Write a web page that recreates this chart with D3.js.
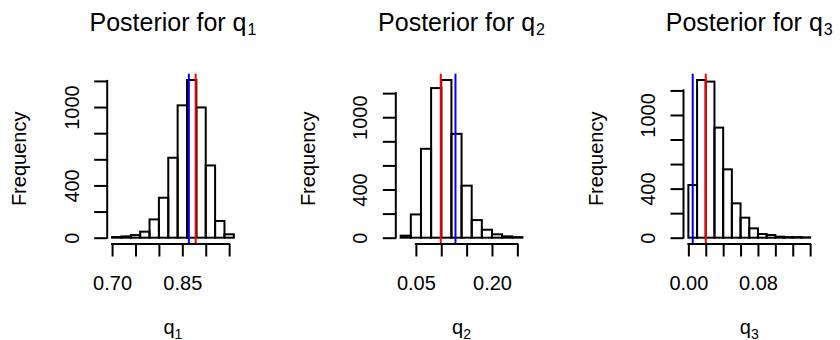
<!DOCTYPE html>
<html>
<head>
<meta charset="utf-8">
<script src="https://cdn.jsdelivr.net/npm/d3@7"></script>
<style>
  html, body { margin: 0; padding: 0; background: #ffffff; }
  svg { display: block; }
  text { font-family: "Liberation Sans", Arial, Helvetica, sans-serif; fill: #000; }
</style>
</head>
<body>
<svg id="chart" width="840" height="340"></svg>
<script>
// ---------- data ----------
const subscripts = ["1", "2", "3"];

// histogram breaks per panel
const breaks1 = [0.70, 0.72, 0.74, 0.76, 0.78, 0.80, 0.82, 0.84, 0.86, 0.88, 0.90, 0.92, 0.94, 0.96];
const breaks2 = [0.02, 0.04, 0.06, 0.08, 0.10, 0.12, 0.14, 0.16, 0.18, 0.20, 0.22, 0.24, 0.26];
const breaks3 = [0.00, 0.01, 0.02, 0.03, 0.04, 0.05, 0.06, 0.07, 0.08, 0.09, 0.10, 0.11, 0.12, 0.13, 0.14];

// counts per bin
const counts1 = [5, 10, 20, 46, 140, 306, 612, 1013, 1207, 997, 553, 128, 26];
const counts2 = [17, 193, 738, 1242, 1309, 862, 432, 146, 66, 28, 11, 5];
const counts3 = [429, 1285, 1272, 897, 557, 280, 163, 76, 30, 22, 8, 5, 5, 3];

// x-axis ticks and which ones carry a label
const xTicks1 = [0.70, 0.75, 0.80, 0.85, 0.90, 0.95];
const xTicks2 = [0.05, 0.10, 0.15, 0.20, 0.25];
const xTicks3 = [0.00, 0.02, 0.04, 0.06, 0.08, 0.10, 0.12, 0.14];
const xLabeled1 = ["0.70", "0.85"];
const xLabeled2 = ["0.05", "0.20"];
const xLabeled3 = ["0.00", "0.08"];

// y-axis ticks and labelled ones
const yTicks = [0, 200, 400, 600, 800, 1000, 1200];
const yLabeled = [0, 400, 1000];

// vertical reference lines
const blueLines = [0.864, 0.128, 0.005];
const redLines  = [0.8785, 0.099, 0.020];

// ---------- layout ----------
const panels = [
  { breaks: breaks1, counts: counts1, xTicks: xTicks1, xLabeled: xLabeled1, blue: blueLines[0], red: redLines[0], sub: subscripts[0] },
  { breaks: breaks2, counts: counts2, xTicks: xTicks2, xLabeled: xLabeled2, blue: blueLines[1], red: redLines[1], sub: subscripts[1] },
  { breaks: breaks3, counts: counts3, xTicks: xTicks3, xLabeled: xLabeled3, blue: blueLines[2], red: redLines[2], sub: subscripts[2] }
];
const plotLefts = [107.2, 395.8, 683.5];
const plotW = 131.5;
const plotTop = 73.7, plotBottom = 244;
const lw = 2;

const svg = d3.select("#chart");

panels.forEach((p, i) => {
  const L = plotLefts[i];
  const lo = p.breaks[0], hi = p.breaks[p.breaks.length - 1];
  const xr = (hi - lo) * 0.04;
  const x = d3.scaleLinear().domain([lo - xr, hi + xr]).range([L, L + plotW]);
  const maxC = d3.max(p.counts);
  const y = d3.scaleLinear().domain([-0.04 * maxC, 1.04 * maxC]).range([plotBottom, plotTop]);
  const g = svg.append("g");

  // bars
  const bins = p.counts.map((c, k) => ({ x0: p.breaks[k], x1: p.breaks[k + 1], c }));
  g.selectAll("rect.bar").data(bins).enter().append("rect")
    .attr("class", "bar")
    .attr("x", d => x(d.x0))
    .attr("width", d => x(d.x1) - x(d.x0))
    .attr("y", d => y(d.c))
    .attr("height", d => y(0) - y(d.c))
    .attr("fill", "none")
    .attr("stroke", "#000")
    .attr("stroke-width", lw);

  // vertical lines
  [[p.blue, "#0000FF"], [p.red, "#FF0000"]].forEach(([v, col]) => {
    g.append("line")
      .attr("x1", x(v)).attr("x2", x(v))
      .attr("y1", plotTop).attr("y2", plotBottom)
      .attr("stroke", col).attr("stroke-width", lw);
  });

  // x axis
  const xAxis = d3.axisBottom(x).tickValues(p.xTicks).tickSize(12.5).tickSizeOuter(0)
    .tickFormat(d => { const s = d.toFixed(2); return p.xLabeled.includes(s) ? s : ""; });
  const gx = g.append("g").attr("transform", `translate(0,${plotBottom})`).call(xAxis);
  gx.select(".domain").remove();
  gx.append("line")
    .attr("x1", x(p.xTicks[0])).attr("x2", x(p.xTicks[p.xTicks.length - 1]))
    .attr("y1", 0).attr("y2", 0)
    .attr("stroke", "#000").attr("stroke-width", lw).attr("stroke-linecap", "square");
  gx.selectAll(".tick line").attr("stroke", "#000").attr("stroke-width", lw);
  gx.selectAll(".tick text")
    .attr("y", 46).attr("dy", null)
    .style("font-size", "20px")
    .style("font-family", "'Liberation Sans', Arial, sans-serif");

  // y axis
  const yAxis = d3.axisLeft(y).tickValues(yTicks).tickSize(13).tickSizeOuter(0)
    .tickFormat(d => yLabeled.includes(d) ? String(d) : "");
  const gy = g.append("g").attr("transform", `translate(${L},0)`).call(yAxis);
  gy.select(".domain").remove();
  gy.append("line")
    .attr("x1", 0).attr("x2", 0)
    .attr("y1", y(yTicks[0])).attr("y2", y(yTicks[yTicks.length - 1]))
    .attr("stroke", "#000").attr("stroke-width", lw).attr("stroke-linecap", "square");
  gy.selectAll(".tick line").attr("stroke", "#000").attr("stroke-width", lw);
  gy.selectAll(".tick text")
    .attr("x", null).attr("dy", null)
    .attr("transform", "translate(-28.5,0) rotate(-90)")
    .attr("text-anchor", "middle")
    .style("font-size", "20px")
    .style("font-family", "'Liberation Sans', Arial, sans-serif");

  const cx = L + plotW / 2;
  const cy = (plotTop + plotBottom) / 2;

  // title
  const t = svg.append("text")
    .attr("x", cx).attr("y", 31)
    .attr("text-anchor", "middle")
    .style("font-size", "25px");
  t.append("tspan").text("Posterior for q");
  t.append("tspan").attr("dx", 1).attr("dy", 3.5).style("font-size", "16px").text(p.sub);

  // x label
  const xl = svg.append("text")
    .attr("x", cx).attr("y", 334)
    .attr("text-anchor", "middle")
    .style("font-size", "20px");
  xl.append("tspan").text("q");
  xl.append("tspan").attr("dy", 4.5).style("font-size", "14px").text(p.sub);

  // y label
  svg.append("text")
    .attr("transform", `translate(${L - 81},${cy}) rotate(-90)`)
    .attr("text-anchor", "middle")
    .style("font-size", "20px")
    .text("Frequency");
});
</script>
</body>
</html>
